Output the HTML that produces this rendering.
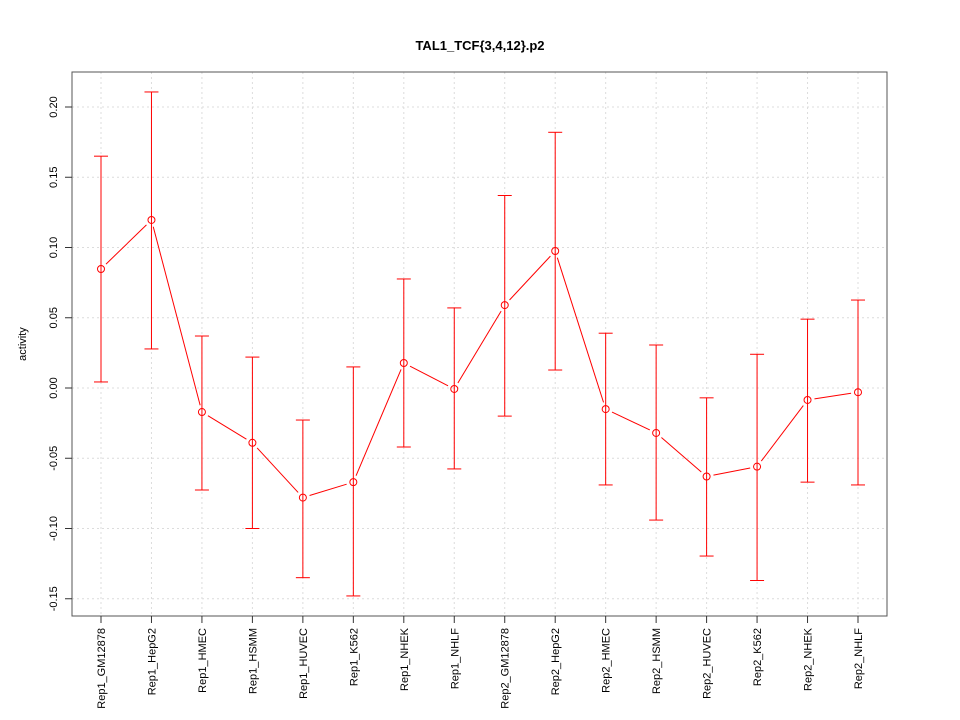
<!DOCTYPE html>
<html><head><meta charset="utf-8"><style>body{margin:0;background:#fff}svg{display:block}text{font-family:"Liberation Sans",sans-serif}</style></head>
<body>
<svg id="c" width="960" height="720" xmlns="http://www.w3.org/2000/svg"></svg>
<script>
const categories=["Rep1_GM12878","Rep1_HepG2","Rep1_HMEC","Rep1_HSMM","Rep1_HUVEC","Rep1_K562","Rep1_NHEK","Rep1_NHLF","Rep2_GM12878","Rep2_HepG2","Rep2_HMEC","Rep2_HSMM","Rep2_HUVEC","Rep2_K562","Rep2_NHEK","Rep2_NHLF"];
const values=[0.0847,0.1196,-0.0171,-0.039,-0.078,-0.067,0.0178,-0.0007,0.059,0.0975,-0.015,-0.032,-0.063,-0.056,-0.0085,-0.003];
const upper=[0.165,0.2107,0.037,0.022,-0.0228,0.015,0.0776,0.057,0.137,0.182,0.039,0.0306,-0.007,0.024,0.049,0.0626];
const lower=[0.0043,0.0278,-0.0726,-0.100,-0.135,-0.148,-0.042,-0.0576,-0.020,0.0128,-0.069,-0.094,-0.1196,-0.137,-0.067,-0.069];
const yTicks=[-0.15,-0.10,-0.05,0.00,0.05,0.10,0.15,0.20];
const yTickLabels=["-0.15","-0.10","-0.05","0.00","0.05","0.10","0.15","0.20"];
const NS="http://www.w3.org/2000/svg",svg=document.getElementById('c');
const L=72,R=887,T=72,B=616;
const x=i=>101+i*(858-101)/15;
const y=v=>388-v*1405;
function mk(t,a,p){const e=document.createElementNS(NS,t);for(const k in a)e.setAttribute(k,a[k]);(p||svg).appendChild(e);return e;}
const grid=mk('g',{});


categories.forEach((c,i)=>mk('line',{x1:x(i),x2:x(i),y1:T,y2:B,stroke:'#dcdcdc','stroke-dasharray':'2,3'},grid));
yTicks.forEach(v=>mk('line',{x1:L,x2:R,y1:y(v),y2:y(v),stroke:'#dcdcdc','stroke-dasharray':'2,3'},grid));
const frame=mk('rect',{x:L,y:T,width:R-L,height:B-T,fill:'none',stroke:'#555'});


const yax=mk('g',{});


yTicks.forEach((v,i)=>{mk('line',{x1:L-7,x2:L,y1:y(v),y2:y(v),stroke:'#333'},yax);
const t=mk('text',{x:0,y:0,transform:`translate(57,${y(v)}) rotate(-90)`,'text-anchor':'middle','font-size':11},yax);t.textContent=yTickLabels[i];});
const xax=mk('g',{});


categories.forEach((c,i)=>{mk('line',{x1:x(i),x2:x(i),y1:B,y2:B+7,stroke:'#333'},xax);
const t=mk('text',{transform:`translate(${x(i)+4},628) rotate(-90)`,'text-anchor':'end','font-size':11},xax);t.textContent=c;});
const ser=mk('g',{stroke:'#ff0000',fill:'none'});


categories.forEach((c,i)=>{const X=x(i);
const e=mk('g',{},ser);


mk('line',{x1:X,x2:X,y1:y(upper[i]),y2:y(lower[i])},e);
mk('line',{x1:X-7,x2:X+7,y1:y(upper[i]),y2:y(upper[i])},e);
mk('line',{x1:X-7,x2:X+7,y1:y(lower[i]),y2:y(lower[i])},e);
const p=mk('circle',{cx:X,cy:y(values[i]),r:3.5},ser);


if(i>0){const x0=x(i-1),y0=y(values[i-1]),x1=X,y1=y(values[i]);const d=Math.hypot(x1-x0,y1-y0),g=7;if(d>2*g){const ux=(x1-x0)/d,uy=(y1-y0)/d;
const s=mk('line',{x1:x0+ux*g,y1:y0+uy*g,x2:x1-ux*g,y2:y1-uy*g},ser);

}}});
const title=mk('text',{x:480,y:50,'text-anchor':'middle','font-size':13,'font-weight':'bold'});title.textContent='TAL1_TCF{3,4,12}.p2';


const yl=mk('text',{transform:'translate(26,344) rotate(-90)','text-anchor':'middle','font-size':11});yl.textContent='activity';


</script>
</body></html>
